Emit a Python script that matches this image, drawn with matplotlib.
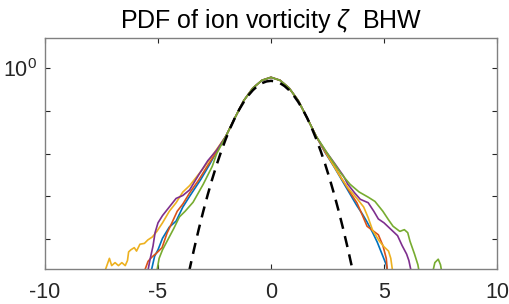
import numpy as np
import matplotlib
matplotlib.use("Agg")
import matplotlib.pyplot as plt

plt.rcParams['font.family'] = ['Liberation Sans', 'DejaVu Sans']
plt.rcParams['mathtext.fontset'] = 'custom'
plt.rcParams['mathtext.rm'] = 'Liberation Sans'
plt.rcParams['mathtext.it'] = 'Liberation Sans:italic'
plt.rcParams['axes.unicode_minus'] = False

# ---- data (x, log10 of PDF) ----
core_x = [-2.0, -1.6, -1.2, -0.8, -0.4, 0.0, 0.4, 0.8, 1.2, 1.6, 2.0]
core_log = [-1.60, -1.17, -0.76, -0.47, -0.29, -0.22, -0.29, -0.47, -0.76, -1.17, -1.60]

blue_left_x = [-5.3, -5.15, -5.0, -4.8, -4.5, -4.2, -3.9, -3.6, -3.1, -2.7, -2.4]
blue_left_log = [-4.75, -4.40, -4.25, -3.98, -3.72, -3.58, -3.25, -3.0, -2.60, -2.24, -1.95]
blue_right_x = [2.4, 2.8, 3.2, 3.5, 3.8, 4.05, 4.25, 4.5, 4.7, 4.95, 5.1, 5.15]
blue_right_log = [-1.98, -2.32, -2.68, -2.95, -3.22, -3.42, -3.60, -3.85, -4.07, -4.40, -4.60, -4.75]

red_left_x = [-5.6, -5.44, -5.27, -5.05, -4.82, -4.6, -4.35, -4.15, -3.9, -3.6, -3.2, -2.8, -2.4]
red_left_log = [-4.75, -4.52, -4.42, -4.32, -4.20, -3.86, -3.58, -3.35, -3.18, -2.92, -2.62, -2.28, -1.95]
red_right_x = [2.4, 2.8, 3.2, 3.5, 3.8, 4.05, 4.25, 4.5, 4.75, 4.95, 5.1, 5.15]
red_right_log = [-1.97, -2.30, -2.65, -2.91, -3.15, -3.45, -3.70, -3.80, -3.90, -4.15, -4.45, -4.75]

yellow_left_x = [-7.35, -7.25, -7.15, -7.05, -6.9, -6.75, -6.6, -6.45, -6.35, -6.3, -6.2, -6.05,
                 -5.95, -5.8, -5.6, -5.45, -5.25, -5.05, -4.8, -4.5, -4.2, -3.9, -3.6, -3.3,
                 -3.0, -2.7, -2.4]
yellow_left_log = [-4.75, -4.60, -4.45, -4.62, -4.55, -4.62, -4.55, -4.62, -4.50, -4.30, -4.25, -4.20,
                   -4.28, -4.12, -4.10, -4.02, -3.95, -3.82, -3.62, -3.35, -3.15, -2.90, -2.75, -2.55,
                   -2.35, -2.13, -1.90]
yellow_right_x = [2.4, 2.7, 3.05, 3.4, 3.8, 4.1, 4.3, 4.5, 4.8, 5.0, 5.2, 5.3, 5.38]
yellow_right_log = [-1.95, -2.22, -2.53, -2.80, -3.05, -3.25, -3.50, -3.80, -4.05, -4.18, -4.28, -4.45, -4.75]

purple_left_x = [-5.45, -5.35, -5.22, -5.13, -5.0, -4.8, -4.5, -4.2, -3.9, -3.6, -3.2, -2.8, -2.4]
purple_left_log = [-4.75, -4.47, -4.16, -3.85, -3.62, -3.45, -3.25, -3.05, -2.98, -2.85, -2.50, -2.17, -1.92]
purple_right_x = [2.4, 2.8, 3.2, 3.4, 3.7, 3.95, 4.3, 4.55, 4.75, 5.0, 5.3, 5.6, 5.8, 6.0, 6.1, 6.2]
purple_right_log = [-1.93, -2.22, -2.52, -2.72, -2.92, -3.07, -3.15, -3.35, -3.53, -3.62, -3.77, -3.92,
                    -4.15, -4.35, -4.50, -4.75]

green_left_x = [-5.05, -4.95, -4.8, -4.5, -4.3, -4.05, -3.8, -3.45, -3.0, -2.6, -2.4]
green_left_log = [-4.75, -4.45, -4.25, -3.95, -3.75, -3.48, -3.35, -3.14, -2.72, -2.30, -2.0]
green_right_x = [2.4, 2.75, 3.1, 3.5, 3.9, 4.3, 4.6, 4.95, 5.2, 5.4, 5.7, 5.9, 6.05, 6.15, 6.35,
                 6.5, 6.6, 7.1, 7.25, 7.4, 7.5, 7.6]
green_right_log = [-1.92, -2.20, -2.47, -2.72, -2.90, -3.02, -3.12, -3.35, -3.55, -3.70, -3.82, -3.78,
                   -3.85, -4.05, -4.35, -4.60, -4.90, -4.90, -4.55, -4.47, -4.60, -4.90]

gauss_x = [-3.8, -3.6, -3.4, -3.2, -3.0, -2.8, -2.6, -2.4, -2.2, -2.0, -1.8, -1.6, -1.4, -1.2,
           -1.0, -0.8, -0.6, -0.4, -0.2, 0.0, 0.2, 0.4, 0.6, 0.8, 1.0, 1.2, 1.4, 1.6, 1.8, 2.0,
           2.2, 2.4, 2.6, 2.8, 3.0, 3.2, 3.4, 3.6, 3.8]
gauss_log = [-5.202, -4.699, -4.224, -3.776, -3.356, -2.962, -2.596, -2.256, -1.944, -1.659,
             -1.401, -1.171, -0.967, -0.791, -0.641, -0.519, -0.424, -0.356, -0.316, -0.302,
             -0.316, -0.356, -0.424, -0.519, -0.641, -0.791, -0.967, -1.171, -1.401, -1.659,
             -1.944, -2.256, -2.596, -2.962, -3.356, -3.776, -4.224, -4.699, -5.202]

series = [
    ("#0072BD", blue_left_x, blue_left_log, blue_right_x, blue_right_log),
    ("#D95319", red_left_x, red_left_log, red_right_x, red_right_log),
    ("#EDB120", yellow_left_x, yellow_left_log, yellow_right_x, yellow_right_log),
    ("#7E2F8E", purple_left_x, purple_left_log, purple_right_x, purple_right_log),
    ("#77AC30", green_left_x, green_left_log, green_right_x, green_right_log),
]

fig = plt.figure(figsize=(5.10, 3.04), dpi=100)
ax = fig.add_axes([45 / 510, 35 / 304, 452 / 510, 231 / 304])

for color, lx, ll, rx, rl in series:
    xs = np.array(lx + core_x + rx)
    ys = 10.0 ** np.array(ll + core_log + rl)
    ax.plot(xs, ys, color=color, lw=1.2)

ax.plot(gauss_x, 10.0 ** np.array(gauss_log), color='black', lw=1.8,
        linestyle=(0, (4.5, 3)))

ax.set_yscale('log')
ax.set_xlim(-10, 10)
ax.set_ylim(2.0e-5, 5.0)
ax.set_xticks([-10, -5, 0, 5, 10])
ax.set_xticklabels(['-10', '-5', '0', '5', '10'])
ax.set_yticks([1e-4, 1e-3, 1e-2, 1e-1, 1e0])
ax.set_yticklabels(['', '', '', '', r'$\mathregular{10^0}$'])
ax.yaxis.set_minor_locator(matplotlib.ticker.NullLocator())

for s in ax.spines.values():
    s.set_color('#808080')
    s.set_linewidth(1.0)
ax.tick_params(axis='both', which='major', direction='in', length=3.5, width=0.8,
               color='#262626', labelcolor='#262626', labelsize=15.5,
               top=True, right=True)
ax.tick_params(axis='x', pad=9.5)
ax.tick_params(axis='y', pad=6)

ax.set_title(r'PDF of ion vorticity $\zeta$  BHW', fontsize=18, color='black', pad=7)

fig.savefig('out.png', dpi=100)
